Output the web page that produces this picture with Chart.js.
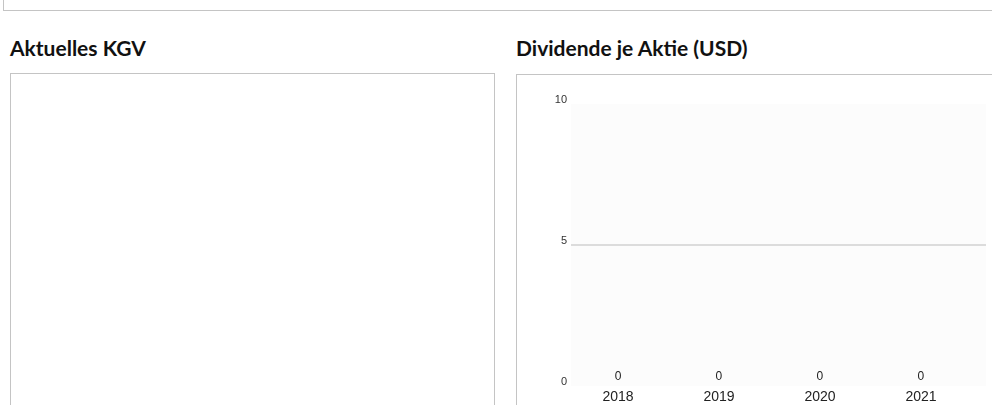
<!DOCTYPE html>
<html lang="de">
<head>
<meta charset="utf-8">
<title>Dividende je Aktie</title>
<script src="https://cdn.jsdelivr.net/npm/chart.js@4.4.1/dist/chart.umd.min.js"></script>
<style>
    html, body { margin: 0; padding: 0; background: #fff; overflow: hidden; }
    body { width: 992px; height: 405px; position: relative; }
    .box { position: absolute; border: 1px solid #c4c4c4; background: #fff; }
    .kopf { left: 3px; top: -12px; width: 1000px; height: 21px; }
    .links { left: 10px; top: 73px; width: 483px; height: 360px; }
    .rechts { left: 516px; top: 74px; width: 500px; height: 360px; }
    .titel { position: absolute; top: 35px; margin: 0; font-family: Lato, "Open Sans", sans-serif; font-weight: 700; font-size: 21px; color: #111; }
    #dividendeChart { position: absolute; left: 0; top: 0; }
</style>
</head>
<body>
<div class="box kopf"></div>
<h2 class="titel" style="left:10px">Aktuelles KGV</h2>
<h2 class="titel" style="left:516px">Dividende je Aktie (USD)</h2>
<div class="box links"></div>
<div class="box rechts">
    <canvas id="dividendeChart" width="475" height="330"></canvas>
</div>
<script>
// Jahre und Dividende je Aktie
const jahre = ['2018', '2019', '2020', '2021'];
const dividende = [0, 0, 0, 0];
const yTicks = [0, 5, 10];

// heller Hintergrund der Zeichenfläche
const hintergrund = {
    id: 'hintergrund',
    beforeDraw(chart) {
        const {ctx, chartArea: a} = chart;
        ctx.save();
        ctx.fillStyle = '#fcfcfc';
        ctx.fillRect(a.left, a.top, a.right - a.left, a.bottom - a.top);
        ctx.restore();
    }
};

// Wert über jeder Säule
const werte = {
    id: 'werte',
    afterDatasetsDraw(chart) {
        const ctx = chart.ctx;
        const meta = chart.getDatasetMeta(0);
        ctx.save();
        ctx.font = '12px "Liberation Sans", Arial, sans-serif';
        ctx.fillStyle = '#222';
        ctx.textAlign = 'center';
        ctx.textBaseline = 'middle';
        meta.data.forEach((bar, i) => {
            ctx.fillText(String(dividende[i]), bar.x, bar.y - 9);
        });
        ctx.restore();
    }
};

const ctx = document.getElementById('dividendeChart').getContext('2d');
new Chart(ctx, {
    type: 'bar',
    data: {
        datasets: [{
            data: jahre.map((j, i) => ({x: i, y: dividende[i]})),
            backgroundColor: '#3366cc',
            barPercentage: 0.6,
            categoryPercentage: 0.8
        }]
    },
    options: {
        responsive: false,
        animation: false,
        layout: {padding: {left: 0, right: 6, top: 29, bottom: 0}},
        plugins: {legend: {display: false}, tooltip: {enabled: false}},
        scales: {
            x: {
                type: 'linear',
                offset: false,
                min: -0.465,
                max: 3.644,
                afterBuildTicks: scale => { scale.ticks = jahre.map((j, i) => ({value: i})); },
                afterFit: scale => { scale.height = 19; },
                grid: {display: false, drawTicks: false},
                border: {display: false},
                ticks: {
                    autoSkip: false,
                    maxRotation: 0,
                    padding: 3,
                    color: '#222',
                    font: {family: '"Liberation Sans", Arial, sans-serif', size: 14},
                    callback: value => jahre[value]
                }
            },
            y: {
                min: 0,
                max: 10,
                afterBuildTicks: scale => { scale.ticks = yTicks.map(v => ({value: v})); },
                afterFit: scale => { scale.width = 54; },
                grid: {
                    drawTicks: false,
                    lineWidth: 2,
                    color: c => c.tick && c.tick.value === 5 ? '#dcdcdc' : 'rgba(0,0,0,0)'
                },
                border: {display: false},
                ticks: {
                    padding: 4,
                    labelOffset: -4,
                    color: '#333',
                    font: {family: '"Liberation Sans", Arial, sans-serif', size: 11}
                }
            }
        }
    },
    plugins: [hintergrund, werte]
});
</script>
</body>
</html>
